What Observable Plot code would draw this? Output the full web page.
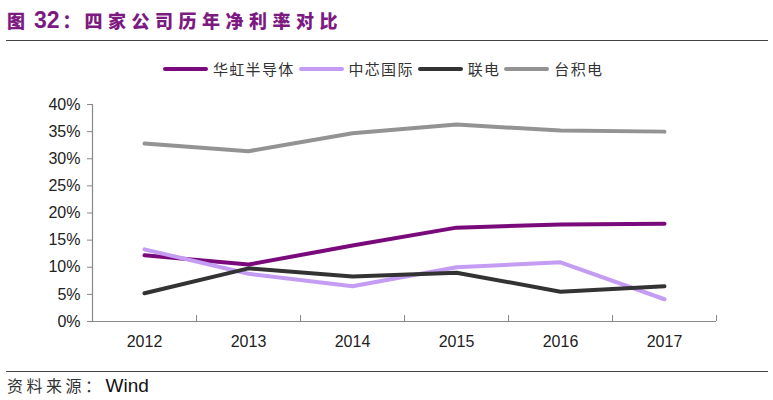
<!DOCTYPE html>
<html><head><meta charset="utf-8">
<script src="https://cdn.jsdelivr.net/npm/d3@7"></script>
<script src="https://cdn.jsdelivr.net/npm/@observablehq/plot@0.6"></script>
<style>
body{margin:0;background:#fff;}
#wrap{position:relative;width:773px;height:400px;overflow:hidden;font-family:"Liberation Sans","Noto Sans CJK SC",sans-serif;}
#title{position:absolute;left:7px;top:5px;font-family:"Noto Sans CJK SC",sans-serif;font-weight:900;font-size:18px;color:#7d1a82;white-space:nowrap;line-height:30px;}
#title span{display:inline-block;}
#title .num{font-family:"Liberation Sans",sans-serif;font-weight:bold;font-size:23px;margin-left:9px;}
#title .colon{margin-left:3px;}
#title .cn{margin-left:4px;letter-spacing:5.5px;}
.hr{position:absolute;left:6px;width:762px;height:0;border-top:1.5px solid #444;}
#legend{position:absolute;left:163px;top:58px;display:flex;align-items:center;font-family:"Noto Sans CJK SC",sans-serif;font-size:15px;color:#333;white-space:nowrap;}
#legend .sw{display:inline-block;width:45px;height:4px;border-radius:2px;margin-right:5px;}
#legend .it{display:flex;align-items:center;margin-right:4px;letter-spacing:1.3px;}
#chart{position:absolute;left:0;top:90px;}
#caption{position:absolute;left:7px;top:373px;font-family:"Noto Sans CJK SC",sans-serif;font-size:16px;color:#333;letter-spacing:3.5px;white-space:nowrap;}
#caption .en{font-family:"Liberation Sans",sans-serif;font-size:19px;color:#111;letter-spacing:0;margin-left:1px;}
</style></head>
<body><div id="wrap">
<div id="title"><span>图</span><span class="num">32</span><span class="colon">：</span><span class="cn">四家公司历年净利率对比</span></div>
<div class="hr" style="top:40px"></div>
<div id="legend"></div>
<div id="chart"></div>
<div class="hr" style="top:371px"></div>
<div id="caption">资料来源：<span class="en">Wind</span></div>
</div>
<script>
const years = ["2012","2013","2014","2015","2016","2017"];
const seriesNames = ["华虹半导体","中芯国际","联电","台积电"];
const seriesColors = ["#7a0a7c","#c49cf3","#333333","#939393"];
const huahong = [12.2, 10.5, 14.0, 17.3, 17.9, 18.0];
const smic    = [13.3, 8.8, 6.5, 10.0, 10.9, 4.1];
const umc     = [5.2, 9.8, 8.3, 9.0, 5.5, 6.5];
const tsmc    = [32.8, 31.4, 34.7, 36.3, 35.2, 35.0];
const yTicks = [0,5,10,15,20,25,30,35,40];

const valuesBySeries = [huahong, smic, umc, tsmc];
const rows = [];
seriesNames.forEach((s, si) => years.forEach((y, i) => rows.push({series: s, year: y, value: valuesBySeries[si][i]})));

// legend
const lg = document.getElementById("legend");
seriesNames.forEach((s, i) => {
  const it = document.createElement("div"); it.className = "it";
  it.innerHTML = `<span class="sw" style="background:${seriesColors[i]}"></span><span>${s}</span>`;
  lg.appendChild(it);
});

const chart = Plot.plot({
  width: 773, height: 265,
  marginTop: 14, marginBottom: 34, marginLeft: 92, marginRight: 57,
  style: {fontFamily: "Liberation Sans, Arial, sans-serif", fontSize: "16px", color: "#222", background: "transparent"},
  x: {type: "band", domain: years, padding: 0},
  y: {domain: [0, 40]},
  color: {domain: seriesNames, range: seriesColors},
  marks: [
    Plot.axisY({ticks: yTicks, tickFormat: d => d + "%", tickSize: 5, tickPadding: 7, label: null, stroke: "#888", fontSize: 16}),
    Plot.axisX({tickSize: 0, tickPadding: 14, label: null, fontSize: 16}),
    Plot.frame({anchor: "left", stroke: "#888", strokeWidth: 1.2}),
    Plot.ruleY([0], {stroke: "#888", strokeWidth: 1.2}),
    Plot.ruleX(years, {x: d => d, dx: 52, y1: 0, y2: 0, insetTop: -6, stroke: "#888"}),
    Plot.line(rows, {x: "year", y: "value", z: "series", stroke: "series", strokeWidth: 4, curve: "linear"})
  ]
});
document.getElementById("chart").appendChild(chart);
</script>
</body></html>
